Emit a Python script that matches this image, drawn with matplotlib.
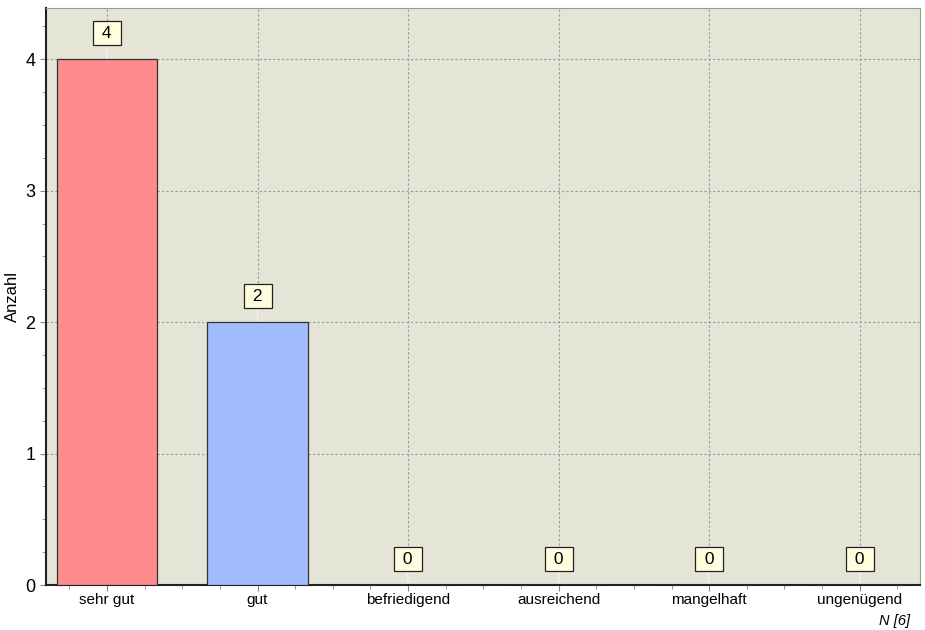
import matplotlib.pyplot as plt
from matplotlib.ticker import MultipleLocator

plt.rcParams['font.family'] = ['Liberation Sans', 'DejaVu Sans']

# data
categories = ['sehr gut', 'gut', 'befriedigend', 'ausreichend', 'mangelhaft', 'ungenügend']
counts = [4, 2, 0, 0, 0, 0]
bar_colors = ['#ff8c8c', '#a2bdff', '#cccccc', '#cccccc', '#cccccc', '#cccccc']
n_total = 6

fig = plt.figure(figsize=(9.25, 6.3), dpi=100)
ax = fig.add_axes([46 / 925, 45 / 630, 874 / 925, 577 / 630])
ax.set_facecolor('#e4e4d7')

x = list(range(len(categories)))
ax.bar(x, counts, width=0.667, color=bar_colors, edgecolor='#333333', linewidth=0.9, zorder=3)

ax.set_xlim(-0.405, 5.4)
ax.set_ylim(0, 4.39)
ax.set_xticks(x)
ax.set_xticklabels(categories, fontsize=11)
ax.set_yticks(range(5))
ax.tick_params(axis='y', labelsize=13, length=4, color='#888888')
ax.tick_params(axis='x', length=4, color='#888888', pad=2)
ax.xaxis.set_minor_locator(MultipleLocator(0.25))
ax.yaxis.set_minor_locator(MultipleLocator(0.25))
ax.tick_params(which='minor', length=3, color='#888888')
ax.grid(True, which='major', color='#999999', linestyle=(0, (2, 2)), linewidth=0.8, zorder=1)
ax.set_ylabel('Anzahl', fontsize=12, labelpad=4)

for s in ['top', 'right']:
    ax.spines[s].set_color('#999999')
for s in ['left', 'bottom']:
    ax.spines[s].set_color('#222222')
    ax.spines[s].set_linewidth(1.5)

# value labels
for xi, v in zip(x, counts):
    ax.plot([xi, xi], [v, v + 0.2], color='#f4f4ee', linewidth=1.2, zorder=2)
    ax.annotate(' ' + str(v) + ' ', (xi, v), xytext=(0, 26), textcoords='offset pixels',
                ha='center', va='center', fontsize=12.5, zorder=5,
                bbox=dict(boxstyle='square,pad=0.25', facecolor='#ffffe0',
                          edgecolor='#222222', linewidth=0.9))

fig.text(910 / 925, 1 - 621 / 630, f'N [{n_total}]', ha='right', va='center',
         fontsize=10.5, style='italic')

fig.savefig('out.png', dpi=100)
